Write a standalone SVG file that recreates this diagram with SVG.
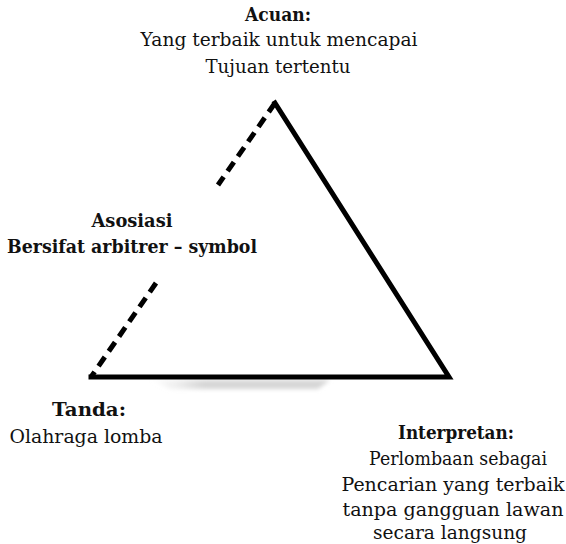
<svg xmlns="http://www.w3.org/2000/svg" width="566" height="544" viewBox="0 0 566 544">
<defs>
<style>
.t{font-family:"DejaVu Serif","Liberation Serif",serif;font-size:18px;fill:#111;text-anchor:middle}
.b{font-weight:bold}
.e{stroke:#000;stroke-width:5;fill:none;stroke-linecap:square}
.d{stroke-dasharray:11 7;stroke-linecap:butt}
</style>
<filter id="blur" x="-20%" y="-100%" width="140%" height="300%"><feGaussianBlur stdDeviation="2"/></filter>
<linearGradient id="sh" x1="0" x2="1" y1="0" y2="0"><stop offset="0" stop-color="#e2e2e2" stop-opacity="0"/><stop offset="0.3" stop-color="#d6d6d6"/><stop offset="1" stop-color="#d6d6d6"/></linearGradient>
</defs>
<rect width="566" height="544" fill="#fff"/>
<path d="M150 380 L330 380 L318 389 L170 389 Z" fill="url(#sh)" filter="url(#blur)"/>
<g id="connectors">
<path class="e" d="M275 103 L449 377 L91 377"/>
<path class="e d" d="M275 103 L218 185"/>
<path class="e d" d="M156 283 L91 377"/>
</g>
<g id="acuan">
<text class="t b" x="278" y="21" textLength="66" lengthAdjust="spacingAndGlyphs">Acuan:</text>
<text class="t" x="279" y="46" textLength="277" lengthAdjust="spacingAndGlyphs">Yang terbaik untuk mencapai</text>
<text class="t" x="278" y="73" textLength="145" lengthAdjust="spacingAndGlyphs">Tujuan tertentu</text>
</g>
<g id="asosiasi">
<text class="t b" x="132" y="227" textLength="81" lengthAdjust="spacingAndGlyphs">Asosiasi</text>
<text class="t b" x="132" y="253" textLength="250" lengthAdjust="spacingAndGlyphs">Bersifat arbitrer – symbol</text>
</g>
<g id="tanda">
<text class="t b" x="89" y="416" textLength="74" lengthAdjust="spacingAndGlyphs">Tanda:</text>
<text class="t" x="86" y="443" textLength="153" lengthAdjust="spacingAndGlyphs">Olahraga lomba</text>
</g>
<g id="interpretan">
<text class="t b" x="456" y="439" textLength="116" lengthAdjust="spacingAndGlyphs">Interpretan:</text>
<text class="t" x="458" y="465" textLength="178" lengthAdjust="spacingAndGlyphs">Perlombaan sebagai</text>
<text class="t" x="453" y="491" textLength="223" lengthAdjust="spacingAndGlyphs">Pencarian yang terbaik</text>
<text class="t" x="453" y="516" textLength="221" lengthAdjust="spacingAndGlyphs">tanpa gangguan lawan</text>
<text class="t" x="450" y="539" textLength="154" lengthAdjust="spacingAndGlyphs">secara langsung</text>
</g>
</svg>
